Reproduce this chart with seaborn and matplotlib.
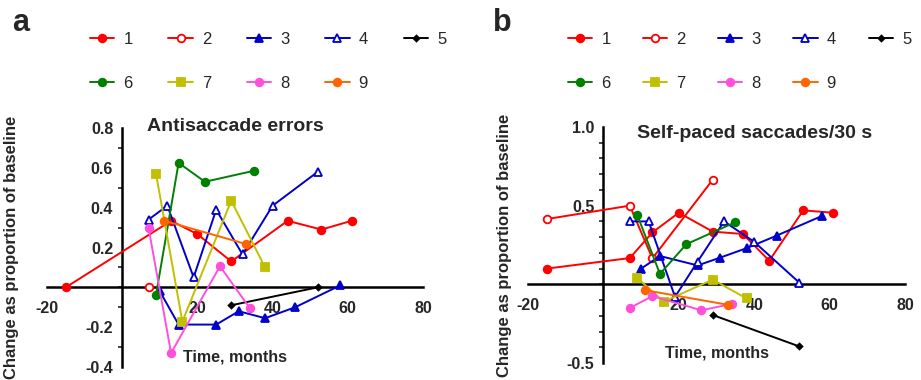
import matplotlib
matplotlib.use("Agg")
import matplotlib.pyplot as plt
import pandas as pd
import seaborn as sns
from matplotlib.lines import Line2D
from matplotlib.ticker import FormatStrFormatter, MultipleLocator

patients = ["1", "2", "3", "4", "5", "6", "7", "8", "9"]
colors = ["#ff0000", "#ff0000", "#0000c8", "#0000c8", "#000000",
          "#008000", "#c0c000", "#ff50dc", "#ff6400"]
markers = ["o", "o", "^", "^", "D", "o", "s", "o", "o"]
openMarker = [False, True, False, True, False, False, False, False, False]
markerSizes = [5.5, 5.5, 5.5, 5.5, 3, 5.5, 5.5, 5.5, 5.5]

# panel a - antisaccade errors
antiMonths = {
    "1": [-15, 13, 20, 29, 44, 53, 61],
    "2": [7],
    "3": [10, 15, 25, 31, 38, 46, 58],
    "4": [7, 12, 19, 25, 32, 40, 52],
    "5": [29, 52],
    "6": [9, 15, 22, 35],
    "7": [9, 16, 29, 38],
    "8": [7, 13, 26, 34],
    "9": [11, 33],
}
antiChange = {
    "1": [0.0, 0.334, 0.267, 0.13, 0.334, 0.29, 0.334],
    "2": [0.0],
    "3": [-0.02, -0.187, -0.187, -0.12, -0.155, -0.10, 0.01],
    "4": [0.34, 0.41, 0.05, 0.39, 0.165, 0.41, 0.58],
    "5": [-0.09, 0.0],
    "6": [-0.037, 0.625, 0.53, 0.585],
    "7": [0.57, -0.172, 0.435, 0.10],
    "8": [0.30, -0.33, 0.106, -0.106],
    "9": [0.335, 0.217],
}

# panel b - self-paced saccades
selfMonths = {
    "1": [-15, 7, 13, 20, 29, 37, 44, 53, 61],
    "2": [-15, 7, 13, 29],
    "3": [10, 15, 25, 31, 38, 46, 58],
    "4": [7, 12, 19, 25, 32, 40, 52],
    "5": [29, 52],
    "6": [9, 15, 22, 35],
    "7": [9, 16, 29, 38],
    "8": [7, 13, 26, 34],
    "9": [11, 33],
}
selfChange = {
    "1": [0.10, 0.167, 0.33, 0.455, 0.335, 0.32, 0.15, 0.47, 0.455],
    "2": [0.415, 0.50, 0.165, 0.665],
    "3": [0.10, 0.18, 0.12, 0.17, 0.23, 0.31, 0.435],
    "4": [0.40, 0.40, -0.08, 0.145, 0.40, 0.27, 0.01],
    "5": [-0.195, -0.395],
    "6": [0.44, 0.066, 0.255, 0.395],
    "7": [0.04, -0.11, 0.03, -0.09],
    "8": [-0.15, -0.075, -0.165, -0.125],
    "9": [-0.037, -0.13],
}

sns.set_style("white")
plt.rcParams["font.family"] = ["Liberation Sans", "DejaVu Sans"]
plt.rcParams["axes.unicode_minus"] = False


def drawSeries(ax, months, change):
    for i, p in enumerate(patients):
        df = pd.DataFrame({"t": months[p], "y": change[p]})
        face = "white" if openMarker[i] else colors[i]
        sns.lineplot(data=df, x="t", y="y", ax=ax, sort=False, estimator=None,
                     color=colors[i], linewidth=1.4, marker=markers[i],
                     markersize=markerSizes[i], markerfacecolor=face,
                     markeredgecolor=colors[i], markeredgewidth=1.3,
                     clip_on=False, zorder=3)


def styleAxes(ax, ylim, yticks, title, titleY, xlabelY, ylabelX):
    ax.set_xlim(-20, 80)
    ax.set_ylim(*ylim)
    for s in ["top", "right"]:
        ax.spines[s].set_visible(False)
    ax.spines["left"].set_position(("data", 0))
    ax.spines["bottom"].set_position(("data", 0))
    for s in ["left", "bottom"]:
        ax.spines[s].set_linewidth(1.8)
        ax.spines[s].set_color("black")
        ax.spines[s].set_zorder(2)
    ax.set_xticks([-20, 20, 40, 60, 80])
    ax.set_yticks(yticks)
    ax.yaxis.set_minor_locator(MultipleLocator(0.1))
    ax.tick_params(axis="both", which="major", direction="out", length=5,
                   width=1.5, labelsize=11.5, color="black")
    ax.tick_params(axis="y", which="minor", direction="out", length=3,
                   width=1.2, left=True)
    ax.tick_params(axis="y", pad=1.5)
    ax.tick_params(axis="x", pad=5)
    for lab in ax.get_xticklabels() + ax.get_yticklabels():
        lab.set_fontweight("bold")
    ax.set_xlabel("")
    ax.set_ylabel("Change as proportion of baseline", fontsize=12,
                  fontweight="bold")
    ax.yaxis.set_label_coords(ylabelX, 0.5)
    ax.text(30, xlabelY, "Time, months", fontsize=11.5, fontweight="bold",
            ha="center", va="center")
    ax.text(title[1], titleY, title[0], fontsize=14, fontweight="bold",
            ha="center", va="center")


def addLegend(fig, x, spacing):
    handles = []
    for i in range(len(patients)):
        face = "white" if openMarker[i] else colors[i]
        handles.append(Line2D([], [], color=colors[i], linewidth=1.4,
                              marker=markers[i], markersize=markerSizes[i],
                              markerfacecolor=face, markeredgecolor=colors[i],
                              markeredgewidth=1.3))
    order = [0, 5, 1, 6, 2, 7, 3, 8, 4]
    fig.legend([handles[k] for k in order], [patients[k] for k in order],
               ncol=5, loc="upper left", bbox_to_anchor=(x, 0.917),
               frameon=False, fontsize=12, handlelength=1.45,
               handletextpad=0.55, columnspacing=spacing, labelspacing=1.75,
               borderpad=0, borderaxespad=0)


fig = plt.figure(figsize=(9.21, 3.8), dpi=100)
axA = fig.add_axes([47 / 921, 13 / 380, 376 / 921, 239 / 380])
axB = fig.add_axes([528 / 921, 17 / 380, 377 / 921, 236 / 380])

drawSeries(axA, antiMonths, antiChange)
styleAxes(axA, (-0.4, 0.8), [-0.4, -0.2, 0.2, 0.4, 0.6, 0.8],
          ("Antisaccade errors", 30), 0.81, -0.35, -0.074)

drawSeries(axB, selfMonths, selfChange)
styleAxes(axB, (-0.5, 1.0), [-0.5, 0.5, 1.0],
          ("Self-paced saccades/30 s", 40), 0.96, -0.435, -0.042)
axB.yaxis.set_major_formatter(FormatStrFormatter("%.1f"))

addLegend(fig, 90 / 921, 2.15)
addLegend(fig, 568 / 921, 1.95)

fig.text(12 / 921, 1 - 8 / 380, "a", fontsize=22, fontweight="bold", va="top")
fig.text(493 / 921, 1 - 8 / 380, "b", fontsize=22, fontweight="bold", va="top")

fig.savefig("out.png", dpi=100)
